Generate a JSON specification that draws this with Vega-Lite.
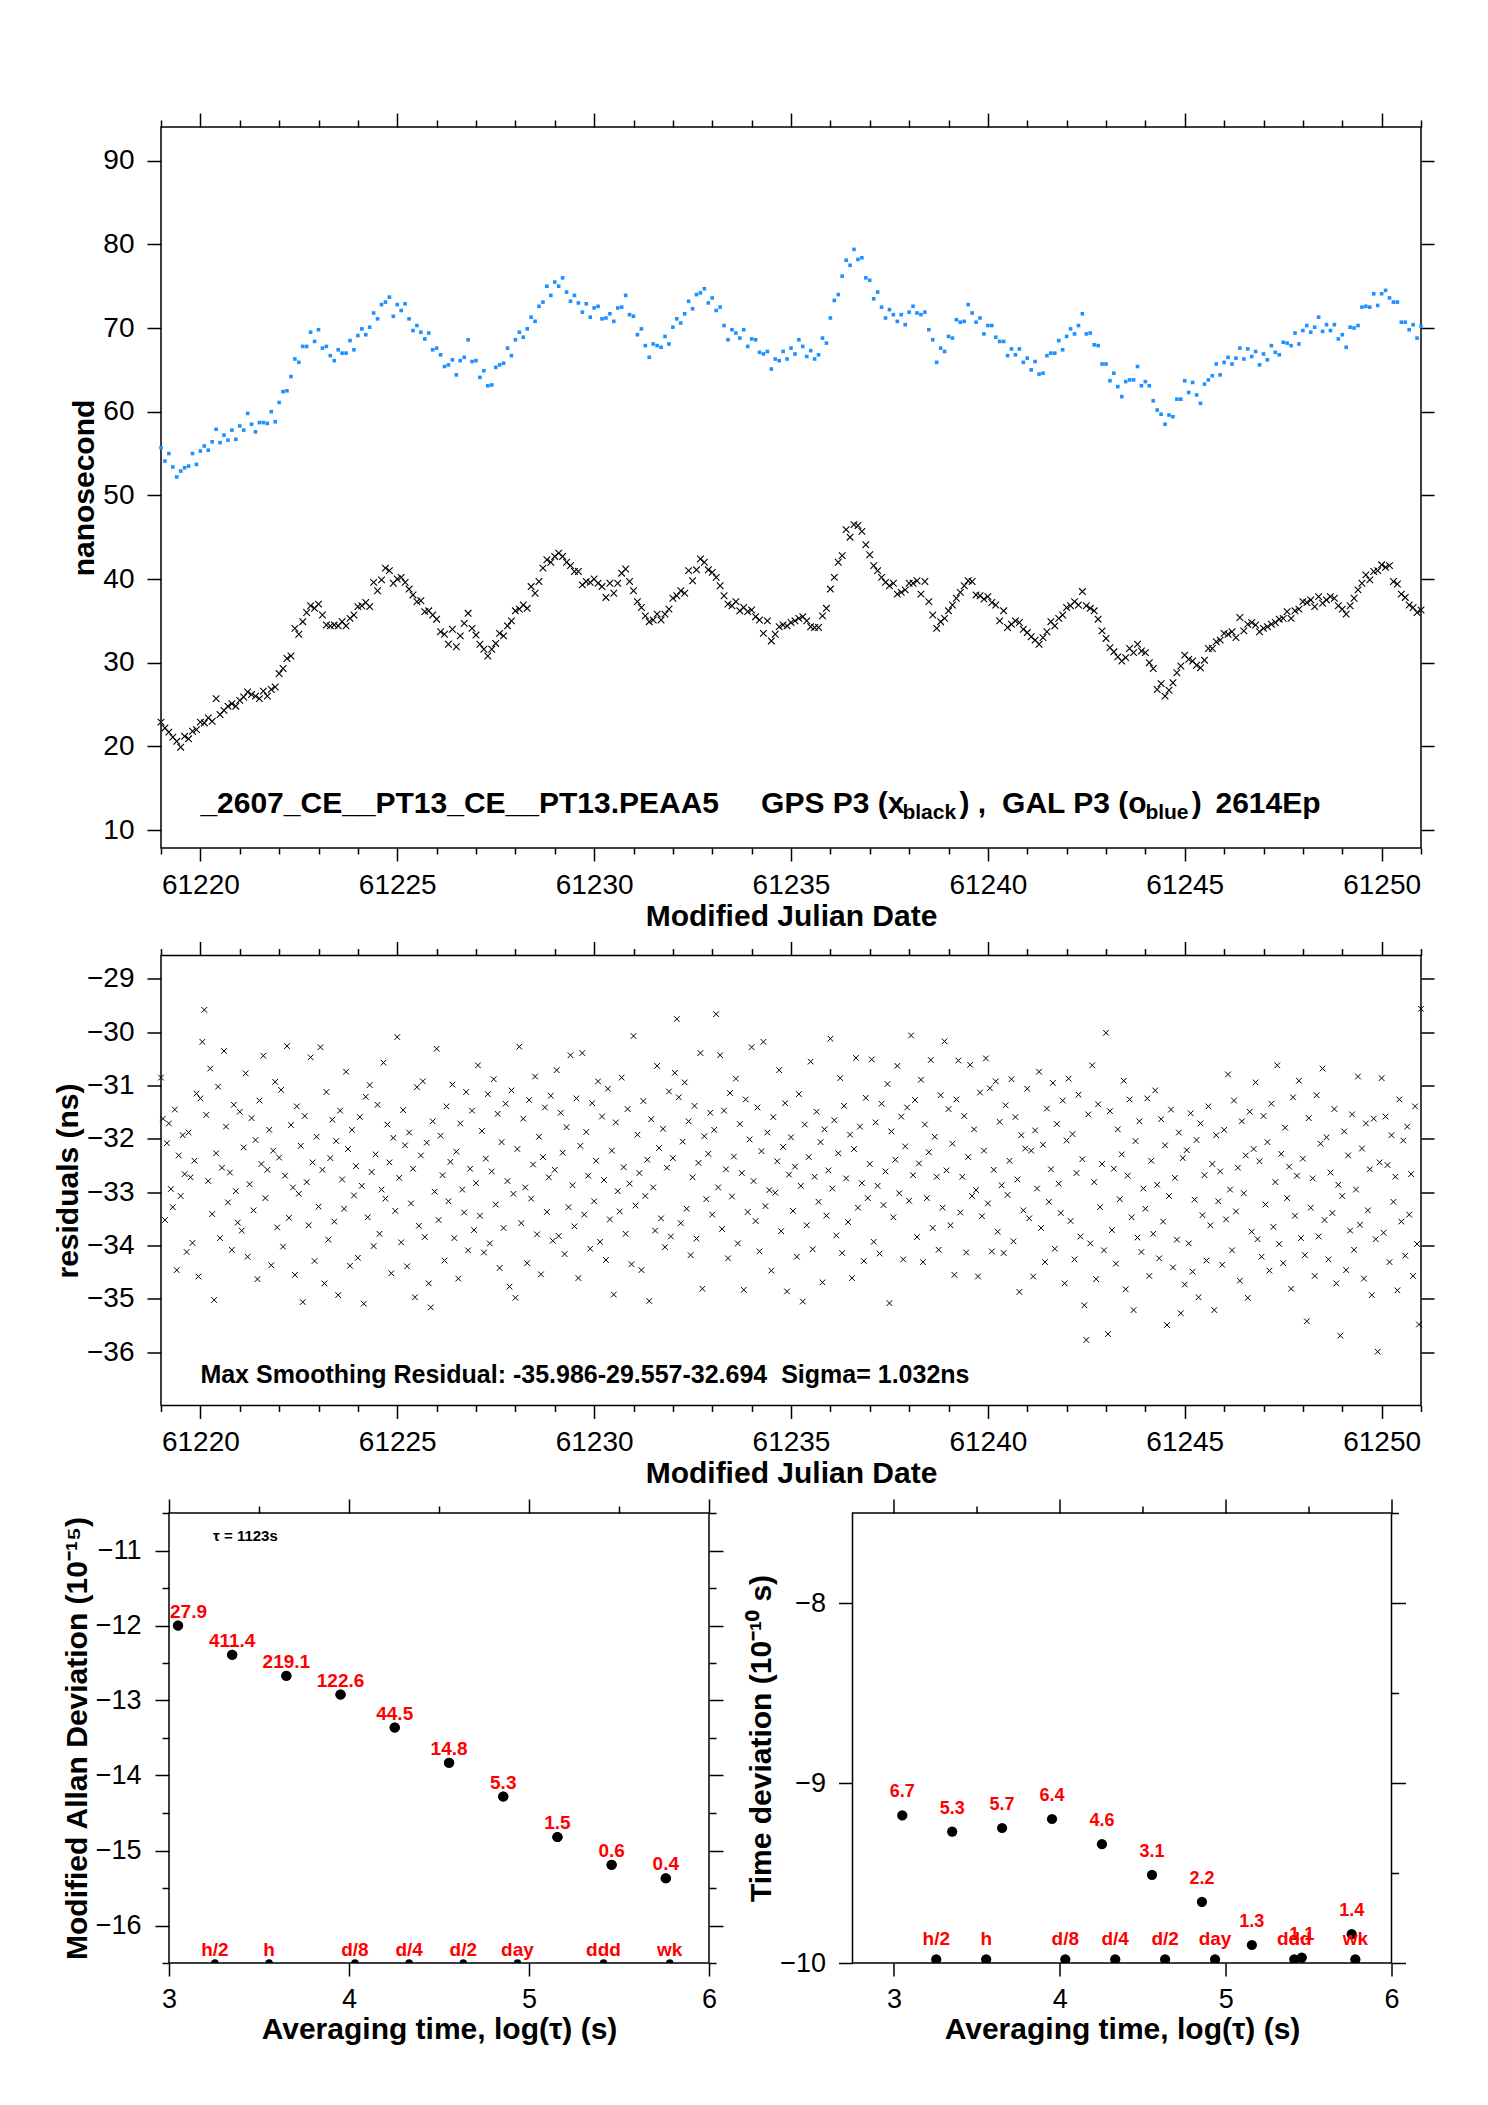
{
"$schema": "https://vega.github.io/schema/vega-lite/v6.json",
"background": "white",
"padding": {"left": 52, "top": 111, "right": 10, "bottom": 10},
"bounds": "flush",
"spacing": 107.5,
"config": {
"font": "Liberation Sans",
"view": {"stroke": "black", "strokeWidth": 1.5},
"axis": {"grid": false, "domain": false, "ticks": true, "tickColor": "black", "tickWidth": 1.5, "labelColor": "black", "labelFont": "Liberation Sans", "labelFontSize": 28, "labelPadding": 11, "labelFlush": false, "labelOverlap": false, "titleColor": "black", "titleFont": "Liberation Sans", "titleFontSize": 30, "titleFontWeight": "bold"},
"text": {"font": "Liberation Sans"}
},
"datasets": {
"ts": [
{"t":61219.0,"a":55.7,"b":22.9},{"t":61219.1,"a":54.1,"b":22.2},{"t":61219.2,"a":55.0,"b":21.7},{"t":61219.3,"a":53.4,"b":21.1},{"t":61219.4,"a":52.2,"b":20.6},{"t":61219.5,"a":52.9,"b":19.9},{"t":61219.6,"a":53.3,"b":21.2},{"t":61219.7,"a":53.5,"b":20.9},{"t":61219.8,"a":55.0,"b":21.8},{"t":61219.9,"a":53.7,"b":22.0},
{"t":61220.0,"a":55.3,"b":22.9},{"t":61220.1,"a":55.9,"b":22.8},{"t":61220.2,"a":55.4,"b":23.4},{"t":61220.3,"a":56.4,"b":23.0},{"t":61220.4,"a":57.9,"b":25.7},{"t":61220.5,"a":56.3,"b":23.8},{"t":61220.6,"a":57.2,"b":24.3},{"t":61220.7,"a":56.6,"b":24.8},{"t":61220.8,"a":57.8,"b":25.1},{"t":61220.9,"a":56.7,"b":24.8},
{"t":61221.0,"a":58.3,"b":25.5},{"t":61221.1,"a":57.8,"b":25.9},{"t":61221.2,"a":59.8,"b":26.5},{"t":61221.3,"a":58.5,"b":26.2},{"t":61221.4,"a":57.6,"b":26.0},{"t":61221.5,"a":58.7,"b":25.7},{"t":61221.6,"a":58.7,"b":26.6},{"t":61221.7,"a":58.6,"b":26.0},{"t":61221.8,"a":60.0,"b":26.8},{"t":61221.9,"a":58.8,"b":27.1},
{"t":61222.0,"a":61.1,"b":28.7},{"t":61222.1,"a":62.4,"b":29.3},{"t":61222.2,"a":62.5,"b":30.5},{"t":61222.3,"a":64.2,"b":30.8},{"t":61222.4,"a":66.3,"b":34.1},{"t":61222.5,"a":65.9,"b":33.4},{"t":61222.6,"a":67.8,"b":34.9},{"t":61222.7,"a":67.8,"b":36.0},{"t":61222.8,"a":69.5,"b":36.8},{"t":61222.9,"a":68.4,"b":36.5},
{"t":61223.0,"a":69.8,"b":37.0},{"t":61223.1,"a":67.6,"b":35.7},{"t":61223.2,"a":67.8,"b":34.5},{"t":61223.3,"a":66.7,"b":34.4},{"t":61223.4,"a":66.1,"b":34.5},{"t":61223.5,"a":67.4,"b":34.4},{"t":61223.6,"a":67.0,"b":34.9},{"t":61223.7,"a":67.0,"b":34.4},{"t":61223.8,"a":68.5,"b":35.3},{"t":61223.9,"a":67.4,"b":35.7},
{"t":61224.0,"a":69.1,"b":36.7},{"t":61224.1,"a":69.9,"b":36.8},{"t":61224.2,"a":69.2,"b":37.2},{"t":61224.3,"a":70.1,"b":36.7},{"t":61224.4,"a":71.8,"b":39.6},{"t":61224.5,"a":71.1,"b":38.6},{"t":61224.6,"a":72.8,"b":39.9},{"t":61224.7,"a":73.1,"b":41.3},{"t":61224.8,"a":73.7,"b":41.0},{"t":61224.9,"a":71.4,"b":39.5},
{"t":61225.0,"a":72.8,"b":40.0},{"t":61225.1,"a":72.1,"b":40.2},{"t":61225.2,"a":72.9,"b":39.6},{"t":61225.3,"a":71.1,"b":38.8},{"t":61225.4,"a":69.7,"b":38.1},{"t":61225.5,"a":70.3,"b":37.3},{"t":61225.6,"a":69.5,"b":37.4},{"t":61225.7,"a":68.7,"b":36.1},{"t":61225.8,"a":69.4,"b":36.2},{"t":61225.9,"a":67.4,"b":35.7},
{"t":61226.0,"a":67.6,"b":35.2},{"t":61226.1,"a":66.8,"b":33.7},{"t":61226.2,"a":65.4,"b":33.4},{"t":61226.3,"a":65.6,"b":32.2},{"t":61226.4,"a":66.2,"b":34.0},{"t":61226.5,"a":64.4,"b":31.9},{"t":61226.6,"a":66.1,"b":33.2},{"t":61226.7,"a":66.5,"b":34.7},{"t":61226.8,"a":68.6,"b":35.9},{"t":61226.9,"a":66.0,"b":34.1},
{"t":61227.0,"a":66.1,"b":33.3},{"t":61227.1,"a":64.1,"b":32.2},{"t":61227.2,"a":64.9,"b":31.6},{"t":61227.3,"a":63.1,"b":30.8},{"t":61227.4,"a":63.2,"b":31.6},{"t":61227.5,"a":65.3,"b":32.3},{"t":61227.6,"a":65.6,"b":33.5},{"t":61227.7,"a":65.8,"b":33.2},{"t":61227.8,"a":67.6,"b":34.4},{"t":61227.9,"a":66.7,"b":35.0},
{"t":61228.0,"a":68.6,"b":36.2},{"t":61228.1,"a":69.5,"b":36.4},{"t":61228.2,"a":68.9,"b":36.9},{"t":61228.3,"a":69.9,"b":36.5},{"t":61228.4,"a":71.3,"b":39.1},{"t":61228.5,"a":70.8,"b":38.3},{"t":61228.6,"a":72.6,"b":39.7},{"t":61228.7,"a":73.1,"b":41.3},{"t":61228.8,"a":75.0,"b":42.3},{"t":61228.9,"a":73.9,"b":42.0},
{"t":61229.0,"a":75.5,"b":42.7},{"t":61229.1,"a":75.0,"b":43.1},{"t":61229.2,"a":76.0,"b":42.7},{"t":61229.3,"a":74.3,"b":42.0},{"t":61229.4,"a":73.2,"b":41.6},{"t":61229.5,"a":73.9,"b":40.9},{"t":61229.6,"a":73.0,"b":40.9},{"t":61229.7,"a":71.9,"b":39.3},{"t":61229.8,"a":72.9,"b":39.7},{"t":61229.9,"a":71.3,"b":39.6},
{"t":61230.0,"a":72.4,"b":40.0},{"t":61230.1,"a":72.6,"b":39.5},{"t":61230.2,"a":71.1,"b":39.1},{"t":61230.3,"a":71.2,"b":37.8},{"t":61230.4,"a":71.7,"b":39.5},{"t":61230.5,"a":70.8,"b":38.3},{"t":61230.6,"a":72.4,"b":39.5},{"t":61230.7,"a":72.5,"b":40.7},{"t":61230.8,"a":73.9,"b":41.2},{"t":61230.9,"a":71.6,"b":39.7},
{"t":61231.0,"a":71.4,"b":38.6},{"t":61231.1,"a":69.2,"b":37.3},{"t":61231.2,"a":69.9,"b":36.6},{"t":61231.3,"a":67.9,"b":35.6},{"t":61231.4,"a":66.5,"b":34.9},{"t":61231.5,"a":68.1,"b":35.1},{"t":61231.6,"a":67.9,"b":35.8},{"t":61231.7,"a":67.7,"b":35.1},{"t":61231.8,"a":69.0,"b":35.8},{"t":61231.9,"a":68.1,"b":36.4},
{"t":61232.0,"a":70.1,"b":37.7},{"t":61232.1,"a":71.1,"b":38.0},{"t":61232.2,"a":70.6,"b":38.6},{"t":61232.3,"a":71.7,"b":38.3},{"t":61232.4,"a":73.2,"b":41.0},{"t":61232.5,"a":72.3,"b":39.8},{"t":61232.6,"a":74.0,"b":41.1},{"t":61232.7,"a":74.2,"b":42.4},{"t":61232.8,"a":74.7,"b":42.0},{"t":61232.9,"a":73.0,"b":41.1},
{"t":61233.0,"a":73.6,"b":40.8},{"t":61233.1,"a":72.1,"b":40.2},{"t":61233.2,"a":72.5,"b":39.2},{"t":61233.3,"a":70.3,"b":38.0},{"t":61233.4,"a":68.6,"b":37.0},{"t":61233.5,"a":69.8,"b":36.8},{"t":61233.6,"a":69.4,"b":37.3},{"t":61233.7,"a":68.8,"b":36.2},{"t":61233.8,"a":69.8,"b":36.6},{"t":61233.9,"a":67.8,"b":36.1},
{"t":61234.0,"a":68.7,"b":36.3},{"t":61234.1,"a":68.6,"b":35.5},{"t":61234.2,"a":67.1,"b":35.1},{"t":61234.3,"a":66.9,"b":33.5},{"t":61234.4,"a":67.2,"b":35.0},{"t":61234.5,"a":65.1,"b":32.6},{"t":61234.6,"a":66.3,"b":33.4},{"t":61234.7,"a":66.1,"b":34.3},{"t":61234.8,"a":67.2,"b":34.5},{"t":61234.9,"a":66.3,"b":34.4},
{"t":61235.0,"a":67.6,"b":34.8},{"t":61235.1,"a":66.9,"b":35.0},{"t":61235.2,"a":68.6,"b":35.3},{"t":61235.3,"a":67.8,"b":35.5},{"t":61235.4,"a":66.6,"b":35.0},{"t":61235.5,"a":67.3,"b":34.3},{"t":61235.6,"a":66.3,"b":34.2},{"t":61235.7,"a":66.8,"b":34.2},{"t":61235.8,"a":68.8,"b":35.6},{"t":61235.9,"a":68.2,"b":36.5},
{"t":61236.0,"a":71.2,"b":38.8},{"t":61236.1,"a":73.3,"b":40.2},{"t":61236.2,"a":74.0,"b":42.0},{"t":61236.3,"a":76.2,"b":42.8},{"t":61236.4,"a":78.1,"b":45.9},{"t":61236.5,"a":77.5,"b":45.0},{"t":61236.6,"a":79.4,"b":46.5},{"t":61236.7,"a":78.2,"b":46.4},{"t":61236.8,"a":78.4,"b":45.7},{"t":61236.9,"a":76.0,"b":44.1},
{"t":61237.0,"a":75.7,"b":42.9},{"t":61237.1,"a":73.5,"b":41.6},{"t":61237.2,"a":74.3,"b":41.0},{"t":61237.3,"a":72.5,"b":40.2},{"t":61237.4,"a":71.2,"b":39.6},{"t":61237.5,"a":72.2,"b":39.2},{"t":61237.6,"a":71.6,"b":39.5},{"t":61237.7,"a":70.8,"b":38.2},{"t":61237.8,"a":71.6,"b":38.4},{"t":61237.9,"a":70.4,"b":38.7},
{"t":61238.0,"a":71.9,"b":39.5},{"t":61238.1,"a":72.6,"b":39.5},{"t":61238.2,"a":71.8,"b":39.8},{"t":61238.3,"a":71.6,"b":38.2},{"t":61238.4,"a":71.9,"b":39.7},{"t":61238.5,"a":69.8,"b":37.3},{"t":61238.6,"a":68.6,"b":35.7},{"t":61238.7,"a":65.9,"b":34.1},{"t":61238.8,"a":67.6,"b":34.9},{"t":61238.9,"a":67.2,"b":35.3},
{"t":61239.0,"a":69.0,"b":36.2},{"t":61239.1,"a":68.8,"b":36.9},{"t":61239.2,"a":71.0,"b":37.7},{"t":61239.3,"a":70.7,"b":38.4},{"t":61239.4,"a":70.8,"b":39.2},{"t":61239.5,"a":72.8,"b":39.8},{"t":61239.6,"a":71.8,"b":39.7},{"t":61239.7,"a":70.7,"b":38.1},{"t":61239.8,"a":71.2,"b":38.0},{"t":61239.9,"a":69.3,"b":37.6},
{"t":61240.0,"a":70.3,"b":37.9},{"t":61240.1,"a":70.3,"b":37.2},{"t":61240.2,"a":68.9,"b":36.9},{"t":61240.3,"a":68.4,"b":35.0},{"t":61240.4,"a":68.4,"b":36.2},{"t":61240.5,"a":66.7,"b":34.2},{"t":61240.6,"a":67.5,"b":34.6},{"t":61240.7,"a":66.8,"b":35.0},{"t":61240.8,"a":67.5,"b":34.8},{"t":61240.9,"a":65.9,"b":34.0},
{"t":61241.0,"a":66.4,"b":33.6},{"t":61241.1,"a":65.0,"b":33.1},{"t":61241.2,"a":66.0,"b":32.7},{"t":61241.3,"a":64.5,"b":32.2},{"t":61241.4,"a":64.6,"b":33.0},{"t":61241.5,"a":66.7,"b":33.7},{"t":61241.6,"a":67.0,"b":34.9},{"t":61241.7,"a":67.0,"b":34.4},{"t":61241.8,"a":68.5,"b":35.3},{"t":61241.9,"a":67.4,"b":35.7},
{"t":61242.0,"a":69.0,"b":36.6},{"t":61242.1,"a":69.9,"b":36.8},{"t":61242.2,"a":69.3,"b":37.3},{"t":61242.3,"a":70.3,"b":36.9},{"t":61242.4,"a":71.7,"b":38.5},{"t":61242.5,"a":69.3,"b":36.8},{"t":61242.6,"a":69.4,"b":36.5},{"t":61242.7,"a":68.0,"b":36.2},{"t":61242.8,"a":67.9,"b":35.2},{"t":61242.9,"a":65.7,"b":33.8},
{"t":61243.0,"a":65.7,"b":32.9},{"t":61243.1,"a":63.7,"b":31.8},{"t":61243.2,"a":64.6,"b":31.3},{"t":61243.3,"a":63.0,"b":30.7},{"t":61243.4,"a":61.8,"b":30.2},{"t":61243.5,"a":63.6,"b":30.6},{"t":61243.6,"a":63.8,"b":31.7},{"t":61243.7,"a":63.8,"b":31.2},{"t":61243.8,"a":65.4,"b":32.2},{"t":61243.9,"a":63.1,"b":31.4},
{"t":61244.0,"a":63.6,"b":31.2},{"t":61244.1,"a":63.1,"b":30.0},{"t":61244.2,"a":61.3,"b":29.3},{"t":61244.3,"a":60.2,"b":26.8},{"t":61244.4,"a":59.7,"b":27.5},{"t":61244.5,"a":58.5,"b":26.0},{"t":61244.6,"a":59.6,"b":26.7},{"t":61244.7,"a":59.4,"b":27.6},{"t":61244.8,"a":61.5,"b":28.8},{"t":61244.9,"a":61.5,"b":29.6},
{"t":61245.0,"a":63.7,"b":30.9},{"t":61245.1,"a":62.3,"b":30.4},{"t":61245.2,"a":63.5,"b":30.2},{"t":61245.3,"a":62.0,"b":29.7},{"t":61245.4,"a":61.0,"b":29.4},{"t":61245.5,"a":63.3,"b":30.3},{"t":61245.6,"a":63.8,"b":31.7},{"t":61245.7,"a":64.3,"b":31.7},{"t":61245.8,"a":65.7,"b":32.5},{"t":61245.9,"a":64.4,"b":32.7},
{"t":61246.0,"a":65.9,"b":33.5},{"t":61246.1,"a":66.5,"b":33.4},{"t":61246.2,"a":65.7,"b":33.7},{"t":61246.3,"a":66.4,"b":33.0},{"t":61246.4,"a":67.6,"b":35.4},{"t":61246.5,"a":66.3,"b":33.8},{"t":61246.6,"a":67.5,"b":34.6},{"t":61246.7,"a":66.6,"b":34.8},{"t":61246.8,"a":67.2,"b":34.5},{"t":61246.9,"a":65.6,"b":33.7},
{"t":61247.0,"a":66.9,"b":34.1},{"t":61247.1,"a":66.2,"b":34.3},{"t":61247.2,"a":67.9,"b":34.6},{"t":61247.3,"a":67.1,"b":34.8},{"t":61247.4,"a":66.8,"b":35.2},{"t":61247.5,"a":68.3,"b":35.3},{"t":61247.6,"a":68.2,"b":36.1},{"t":61247.7,"a":67.9,"b":35.3},{"t":61247.8,"a":69.4,"b":36.2},{"t":61247.9,"a":68.1,"b":36.4},
{"t":61248.0,"a":69.7,"b":37.3},{"t":61248.1,"a":70.3,"b":37.2},{"t":61248.2,"a":69.5,"b":37.5},{"t":61248.3,"a":70.1,"b":36.7},{"t":61248.4,"a":71.3,"b":37.9},{"t":61248.5,"a":69.6,"b":37.1},{"t":61248.6,"a":70.4,"b":37.5},{"t":61248.7,"a":69.7,"b":37.9},{"t":61248.8,"a":70.4,"b":37.7},{"t":61248.9,"a":68.7,"b":36.8},
{"t":61249.0,"a":69.2,"b":36.4},{"t":61249.1,"a":67.7,"b":35.8},{"t":61249.2,"a":70.1,"b":36.8},{"t":61249.3,"a":70.0,"b":37.7},{"t":61249.4,"a":70.3,"b":38.7},{"t":61249.5,"a":72.5,"b":39.5},{"t":61249.6,"a":72.6,"b":40.5},{"t":61249.7,"a":72.5,"b":39.9},{"t":61249.8,"a":74.1,"b":40.9},{"t":61249.9,"a":72.7,"b":41.0},
{"t":61250.0,"a":74.1,"b":41.7},{"t":61250.1,"a":74.5,"b":41.4},{"t":61250.2,"a":73.6,"b":41.6},{"t":61250.3,"a":73.1,"b":39.7},{"t":61250.4,"a":73.1,"b":39.4},{"t":61250.5,"a":70.7,"b":38.2},{"t":61250.6,"a":70.7,"b":37.8},{"t":61250.7,"a":69.8,"b":36.9},{"t":61250.8,"a":70.4,"b":36.6},{"t":61250.9,"a":68.8,"b":36.0},
{"t":61251.0,"a":70.2,"b":36.3}
],
"res": [
{"t":61219.00,"r":-30.85},{"t":61219.05,"r":-31.62},{"t":61219.10,"r":-33.52},{"t":61219.15,"r":-32.08},{"t":61219.20,"r":-31.71},{"t":61219.25,"r":-32.94},{"t":61219.30,"r":-33.28},{"t":61219.35,"r":-31.45},{"t":61219.40,"r":-34.46},{"t":61219.45,"r":-32.31},{"t":61219.50,"r":-33.07},{"t":61219.55,"r":-31.93},{"t":61219.60,"r":-32.66},{"t":61219.65,"r":-34.12},{"t":61219.70,"r":-31.88},{"t":61219.75,"r":-32.72},{"t":61219.80,"r":-33.95},{"t":61219.85,"r":-32.41},{"t":61219.90,"r":-31.15},{"t":61219.95,"r":-34.58},
{"t":61220.00,"r":-31.24},{"t":61220.05,"r":-30.18},{"t":61220.10,"r":-29.58},{"t":61220.15,"r":-31.55},{"t":61220.20,"r":-32.79},{"t":61220.25,"r":-30.68},{"t":61220.30,"r":-33.41},{"t":61220.35,"r":-35.02},{"t":61220.40,"r":-32.27},{"t":61220.45,"r":-31.02},{"t":61220.50,"r":-33.86},{"t":61220.55,"r":-32.54},{"t":61220.60,"r":-30.35},{"t":61220.65,"r":-31.77},{"t":61220.70,"r":-33.19},{"t":61220.75,"r":-32.63},{"t":61220.80,"r":-34.08},{"t":61220.85,"r":-31.36},{"t":61220.90,"r":-32.98},{"t":61220.95,"r":-33.57},
{"t":61221.00,"r":-31.49},{"t":61221.05,"r":-33.72},{"t":61221.10,"r":-32.16},{"t":61221.15,"r":-30.77},{"t":61221.20,"r":-34.21},{"t":61221.25,"r":-32.85},{"t":61221.30,"r":-31.61},{"t":61221.35,"r":-33.34},{"t":61221.40,"r":-32.02},{"t":61221.45,"r":-34.63},{"t":61221.50,"r":-31.28},{"t":61221.55,"r":-32.47},{"t":61221.60,"r":-30.44},{"t":61221.65,"r":-33.11},{"t":61221.70,"r":-32.58},{"t":61221.75,"r":-31.83},{"t":61221.80,"r":-34.37},{"t":61221.85,"r":-32.22},{"t":61221.90,"r":-30.93},{"t":61221.95,"r":-33.66},
{"t":61222.00,"r":-32.35},{"t":61222.05,"r":-31.08},{"t":61222.10,"r":-34.02},{"t":61222.15,"r":-32.69},{"t":61222.20,"r":-30.26},{"t":61222.25,"r":-33.48},{"t":61222.30,"r":-31.74},{"t":61222.35,"r":-32.91},{"t":61222.40,"r":-34.55},{"t":61222.45,"r":-31.39},{"t":61222.50,"r":-33.03},{"t":61222.55,"r":-32.13},{"t":61222.60,"r":-35.06},{"t":61222.65,"r":-31.57},{"t":61222.70,"r":-32.81},{"t":61222.75,"r":-33.62},{"t":61222.80,"r":-30.47},{"t":61222.85,"r":-32.44},{"t":61222.90,"r":-34.29},{"t":61222.95,"r":-31.96},
{"t":61223.00,"r":-33.27},{"t":61223.05,"r":-30.28},{"t":61223.10,"r":-32.58},{"t":61223.15,"r":-34.71},{"t":61223.20,"r":-31.12},{"t":61223.25,"r":-33.89},{"t":61223.30,"r":-32.36},{"t":61223.35,"r":-31.64},{"t":61223.40,"r":-33.55},{"t":61223.45,"r":-32.04},{"t":61223.50,"r":-34.93},{"t":61223.55,"r":-31.47},{"t":61223.60,"r":-32.76},{"t":61223.65,"r":-33.31},{"t":61223.70,"r":-30.74},{"t":61223.75,"r":-32.19},{"t":61223.80,"r":-34.38},{"t":61223.85,"r":-31.83},{"t":61223.90,"r":-33.06},{"t":61223.95,"r":-32.51},
{"t":61224.00,"r":-34.23},{"t":61224.05,"r":-31.59},{"t":61224.10,"r":-32.88},{"t":61224.15,"r":-35.09},{"t":61224.20,"r":-31.21},{"t":61224.25,"r":-33.47},{"t":61224.30,"r":-30.99},{"t":61224.35,"r":-32.62},{"t":61224.40,"r":-34.01},{"t":61224.45,"r":-32.29},{"t":61224.50,"r":-31.36},{"t":61224.55,"r":-33.78},{"t":61224.60,"r":-32.95},{"t":61224.65,"r":-30.57},{"t":61224.70,"r":-33.12},{"t":61224.75,"r":-31.73},{"t":61224.80,"r":-32.44},{"t":61224.85,"r":-34.52},{"t":61224.90,"r":-31.98},{"t":61224.95,"r":-33.35},
{"t":61225.00,"r":-30.09},{"t":61225.05,"r":-32.73},{"t":61225.10,"r":-33.94},{"t":61225.15,"r":-31.46},{"t":61225.20,"r":-32.12},{"t":61225.25,"r":-34.39},{"t":61225.30,"r":-31.88},{"t":61225.35,"r":-33.21},{"t":61225.40,"r":-32.56},{"t":61225.45,"r":-34.97},{"t":61225.50,"r":-31.03},{"t":61225.55,"r":-33.63},{"t":61225.60,"r":-32.31},{"t":61225.65,"r":-30.92},{"t":61225.70,"r":-33.84},{"t":61225.75,"r":-32.07},{"t":61225.80,"r":-34.71},{"t":61225.85,"r":-35.16},{"t":61225.90,"r":-31.67},{"t":61225.95,"r":-32.99},
{"t":61226.00,"r":-30.31},{"t":61226.05,"r":-33.52},{"t":61226.10,"r":-31.94},{"t":61226.15,"r":-32.68},{"t":61226.20,"r":-34.28},{"t":61226.25,"r":-31.39},{"t":61226.30,"r":-33.17},{"t":61226.35,"r":-32.43},{"t":61226.40,"r":-30.98},{"t":61226.45,"r":-33.86},{"t":61226.50,"r":-32.24},{"t":61226.55,"r":-34.62},{"t":61226.60,"r":-31.71},{"t":61226.65,"r":-32.95},{"t":61226.70,"r":-33.38},{"t":61226.75,"r":-31.12},{"t":61226.80,"r":-34.09},{"t":61226.85,"r":-32.56},{"t":61226.90,"r":-31.47},{"t":61226.95,"r":-33.71},
{"t":61227.00,"r":-32.83},{"t":61227.05,"r":-30.62},{"t":61227.10,"r":-33.44},{"t":61227.15,"r":-31.85},{"t":61227.20,"r":-34.13},{"t":61227.25,"r":-32.37},{"t":61227.30,"r":-31.16},{"t":61227.35,"r":-33.96},{"t":61227.40,"r":-32.61},{"t":61227.45,"r":-30.88},{"t":61227.50,"r":-33.23},{"t":61227.55,"r":-31.53},{"t":61227.60,"r":-34.42},{"t":61227.65,"r":-32.06},{"t":61227.70,"r":-33.67},{"t":61227.75,"r":-31.34},{"t":61227.80,"r":-32.79},{"t":61227.85,"r":-34.77},{"t":61227.90,"r":-31.09},{"t":61227.95,"r":-33.03},
{"t":61228.00,"r":-34.98},{"t":61228.05,"r":-32.19},{"t":61228.10,"r":-30.27},{"t":61228.15,"r":-33.58},{"t":61228.20,"r":-31.62},{"t":61228.25,"r":-32.91},{"t":61228.30,"r":-34.33},{"t":61228.35,"r":-31.27},{"t":61228.40,"r":-33.12},{"t":61228.45,"r":-32.48},{"t":61228.50,"r":-30.83},{"t":61228.55,"r":-33.79},{"t":61228.60,"r":-31.96},{"t":61228.65,"r":-34.54},{"t":61228.70,"r":-32.34},{"t":61228.75,"r":-31.41},{"t":61228.80,"r":-33.37},{"t":61228.85,"r":-32.72},{"t":61228.90,"r":-31.19},{"t":61228.95,"r":-33.91},
{"t":61229.00,"r":-32.58},{"t":61229.05,"r":-30.71},{"t":61229.10,"r":-33.82},{"t":61229.15,"r":-31.51},{"t":61229.20,"r":-32.26},{"t":61229.25,"r":-34.16},{"t":61229.30,"r":-31.78},{"t":61229.35,"r":-33.28},{"t":61229.40,"r":-30.43},{"t":61229.45,"r":-32.87},{"t":61229.50,"r":-33.64},{"t":61229.55,"r":-31.24},{"t":61229.60,"r":-34.61},{"t":61229.65,"r":-32.13},{"t":61229.70,"r":-30.39},{"t":61229.75,"r":-33.42},{"t":61229.80,"r":-31.87},{"t":61229.85,"r":-32.69},{"t":61229.90,"r":-34.06},{"t":61229.95,"r":-31.33},
{"t":61230.00,"r":-33.17},{"t":61230.05,"r":-32.41},{"t":61230.10,"r":-30.92},{"t":61230.15,"r":-33.93},{"t":61230.20,"r":-31.58},{"t":61230.25,"r":-32.77},{"t":61230.30,"r":-34.27},{"t":61230.35,"r":-31.06},{"t":61230.40,"r":-33.51},{"t":61230.45,"r":-32.22},{"t":61230.50,"r":-34.92},{"t":61230.55,"r":-31.69},{"t":61230.60,"r":-32.98},{"t":61230.65,"r":-33.36},{"t":61230.70,"r":-30.85},{"t":61230.75,"r":-32.53},{"t":61230.80,"r":-33.78},{"t":61230.85,"r":-31.44},{"t":61230.90,"r":-32.84},{"t":61230.95,"r":-34.35},
{"t":61231.00,"r":-30.07},{"t":61231.05,"r":-33.25},{"t":61231.10,"r":-31.92},{"t":61231.15,"r":-32.64},{"t":61231.20,"r":-34.46},{"t":61231.25,"r":-31.29},{"t":61231.30,"r":-33.07},{"t":61231.35,"r":-32.39},{"t":61231.40,"r":-35.04},{"t":61231.45,"r":-31.63},{"t":61231.50,"r":-32.91},{"t":61231.55,"r":-33.72},{"t":61231.60,"r":-30.63},{"t":61231.65,"r":-32.17},{"t":61231.70,"r":-33.49},{"t":61231.75,"r":-31.81},{"t":61231.80,"r":-34.03},{"t":61231.85,"r":-32.54},{"t":61231.90,"r":-31.11},{"t":61231.95,"r":-33.83},
{"t":61232.00,"r":-32.36},{"t":61232.05,"r":-30.76},{"t":61232.10,"r":-29.75},{"t":61232.15,"r":-31.22},{"t":61232.20,"r":-33.58},{"t":61232.25,"r":-32.05},{"t":61232.30,"r":-30.94},{"t":61232.35,"r":-33.31},{"t":61232.40,"r":-31.67},{"t":61232.45,"r":-34.18},{"t":61232.50,"r":-32.72},{"t":61232.55,"r":-31.38},{"t":61232.60,"r":-33.87},{"t":61232.65,"r":-32.45},{"t":61232.70,"r":-30.39},{"t":61232.75,"r":-34.81},{"t":61232.80,"r":-31.95},{"t":61232.85,"r":-33.13},{"t":61232.90,"r":-32.28},{"t":61232.95,"r":-31.51},
{"t":61233.00,"r":-33.42},{"t":61233.05,"r":-31.83},{"t":61233.10,"r":-29.66},{"t":61233.15,"r":-32.91},{"t":61233.20,"r":-30.43},{"t":61233.25,"r":-33.69},{"t":61233.30,"r":-31.47},{"t":61233.35,"r":-32.57},{"t":61233.40,"r":-34.24},{"t":61233.45,"r":-31.14},{"t":61233.50,"r":-33.08},{"t":61233.55,"r":-32.33},{"t":61233.60,"r":-30.87},{"t":61233.65,"r":-33.96},{"t":61233.70,"r":-31.72},{"t":61233.75,"r":-32.64},{"t":61233.80,"r":-34.83},{"t":61233.85,"r":-31.26},{"t":61233.90,"r":-33.37},{"t":61233.95,"r":-32.01},
{"t":61234.00,"r":-30.28},{"t":61234.05,"r":-32.79},{"t":61234.10,"r":-33.54},{"t":61234.15,"r":-31.41},{"t":61234.20,"r":-34.11},{"t":61234.25,"r":-32.23},{"t":61234.30,"r":-30.18},{"t":61234.35,"r":-33.26},{"t":61234.40,"r":-31.88},{"t":61234.45,"r":-32.96},{"t":61234.50,"r":-34.47},{"t":61234.55,"r":-31.59},{"t":61234.60,"r":-33.01},{"t":61234.65,"r":-32.42},{"t":61234.70,"r":-30.71},{"t":61234.75,"r":-33.73},{"t":61234.80,"r":-32.15},{"t":61234.85,"r":-31.33},{"t":61234.90,"r":-34.86},{"t":61234.95,"r":-32.67},
{"t":61235.00,"r":-31.97},{"t":61235.05,"r":-33.35},{"t":61235.10,"r":-32.52},{"t":61235.15,"r":-34.21},{"t":61235.20,"r":-31.16},{"t":61235.25,"r":-32.88},{"t":61235.30,"r":-35.05},{"t":61235.35,"r":-31.73},{"t":61235.40,"r":-33.62},{"t":61235.45,"r":-32.34},{"t":61235.50,"r":-30.55},{"t":61235.55,"r":-34.07},{"t":61235.60,"r":-32.71},{"t":61235.65,"r":-31.49},{"t":61235.70,"r":-33.18},{"t":61235.75,"r":-32.06},{"t":61235.80,"r":-34.69},{"t":61235.85,"r":-31.82},{"t":61235.90,"r":-33.44},{"t":61235.95,"r":-32.59},
{"t":61236.00,"r":-30.12},{"t":61236.05,"r":-32.93},{"t":61236.10,"r":-31.65},{"t":61236.15,"r":-33.81},{"t":61236.20,"r":-32.27},{"t":61236.25,"r":-30.86},{"t":61236.30,"r":-34.14},{"t":61236.35,"r":-31.38},{"t":61236.40,"r":-32.74},{"t":61236.45,"r":-33.56},{"t":61236.50,"r":-31.92},{"t":61236.55,"r":-34.61},{"t":61236.60,"r":-32.19},{"t":61236.65,"r":-30.48},{"t":61236.70,"r":-33.29},{"t":61236.75,"r":-31.77},{"t":61236.80,"r":-32.83},{"t":61236.85,"r":-34.29},{"t":61236.90,"r":-31.23},{"t":61236.95,"r":-33.11},
{"t":61237.00,"r":-32.47},{"t":61237.05,"r":-30.51},{"t":61237.10,"r":-33.93},{"t":61237.15,"r":-31.69},{"t":61237.20,"r":-32.88},{"t":61237.25,"r":-34.15},{"t":61237.30,"r":-31.34},{"t":61237.35,"r":-33.24},{"t":61237.40,"r":-32.61},{"t":61237.45,"r":-30.97},{"t":61237.50,"r":-35.08},{"t":61237.55,"r":-31.86},{"t":61237.60,"r":-33.47},{"t":61237.65,"r":-32.39},{"t":61237.70,"r":-30.63},{"t":61237.75,"r":-33.02},{"t":61237.80,"r":-31.58},{"t":61237.85,"r":-34.26},{"t":61237.90,"r":-32.14},{"t":61237.95,"r":-31.41},
{"t":61238.00,"r":-33.16},{"t":61238.05,"r":-30.06},{"t":61238.10,"r":-32.68},{"t":61238.15,"r":-31.27},{"t":61238.20,"r":-33.84},{"t":61238.25,"r":-32.46},{"t":61238.30,"r":-30.89},{"t":61238.35,"r":-34.31},{"t":61238.40,"r":-31.73},{"t":61238.45,"r":-33.11},{"t":61238.50,"r":-32.25},{"t":61238.55,"r":-30.52},{"t":61238.60,"r":-33.67},{"t":61238.65,"r":-31.96},{"t":61238.70,"r":-32.71},{"t":61238.75,"r":-34.08},{"t":61238.80,"r":-31.18},{"t":61238.85,"r":-33.29},{"t":61238.90,"r":-30.17},{"t":61238.95,"r":-32.59},
{"t":61239.00,"r":-31.44},{"t":61239.05,"r":-33.62},{"t":61239.10,"r":-32.09},{"t":61239.15,"r":-34.55},{"t":61239.20,"r":-31.26},{"t":61239.25,"r":-30.53},{"t":61239.30,"r":-33.38},{"t":61239.35,"r":-32.71},{"t":61239.40,"r":-31.57},{"t":61239.45,"r":-34.13},{"t":61239.50,"r":-32.34},{"t":61239.55,"r":-30.61},{"t":61239.60,"r":-33.07},{"t":61239.65,"r":-31.82},{"t":61239.70,"r":-32.96},{"t":61239.75,"r":-34.58},{"t":61239.80,"r":-31.13},{"t":61239.85,"r":-33.45},{"t":61239.90,"r":-32.22},{"t":61239.95,"r":-30.49},
{"t":61240.00,"r":-33.21},{"t":61240.05,"r":-31.05},{"t":61240.10,"r":-34.11},{"t":61240.15,"r":-32.58},{"t":61240.20,"r":-30.92},{"t":61240.25,"r":-33.74},{"t":61240.30,"r":-31.68},{"t":61240.35,"r":-32.87},{"t":61240.40,"r":-34.14},{"t":61240.45,"r":-31.37},{"t":61240.50,"r":-33.05},{"t":61240.55,"r":-32.41},{"t":61240.60,"r":-30.88},{"t":61240.65,"r":-33.92},{"t":61240.70,"r":-31.59},{"t":61240.75,"r":-32.76},{"t":61240.80,"r":-34.87},{"t":61240.85,"r":-31.93},{"t":61240.90,"r":-33.34},{"t":61240.95,"r":-32.18},
{"t":61241.00,"r":-31.06},{"t":61241.05,"r":-33.49},{"t":61241.10,"r":-32.22},{"t":61241.15,"r":-34.58},{"t":61241.20,"r":-31.84},{"t":61241.25,"r":-32.93},{"t":61241.30,"r":-30.74},{"t":61241.35,"r":-33.67},{"t":61241.40,"r":-32.11},{"t":61241.45,"r":-34.31},{"t":61241.50,"r":-31.43},{"t":61241.55,"r":-33.18},{"t":61241.60,"r":-32.57},{"t":61241.65,"r":-30.95},{"t":61241.70,"r":-34.06},{"t":61241.75,"r":-31.72},{"t":61241.80,"r":-32.84},{"t":61241.85,"r":-33.39},{"t":61241.90,"r":-31.28},{"t":61241.95,"r":-34.71},
{"t":61242.00,"r":-32.03},{"t":61242.05,"r":-30.87},{"t":61242.10,"r":-33.54},{"t":61242.15,"r":-31.91},{"t":61242.20,"r":-34.26},{"t":61242.25,"r":-32.64},{"t":61242.30,"r":-31.17},{"t":61242.35,"r":-33.83},{"t":61242.40,"r":-32.38},{"t":61242.45,"r":-35.12},{"t":61242.50,"r":-35.77},{"t":61242.55,"r":-31.54},{"t":61242.60,"r":-33.96},{"t":61242.65,"r":-30.62},{"t":61242.70,"r":-32.81},{"t":61242.75,"r":-34.63},{"t":61242.80,"r":-31.35},{"t":61242.85,"r":-33.28},{"t":61242.90,"r":-32.47},{"t":61242.95,"r":-34.09},
{"t":61243.00,"r":-30.01},{"t":61243.05,"r":-35.66},{"t":61243.10,"r":-31.48},{"t":61243.15,"r":-33.71},{"t":61243.20,"r":-32.56},{"t":61243.25,"r":-34.34},{"t":61243.30,"r":-31.82},{"t":61243.35,"r":-33.13},{"t":61243.40,"r":-32.29},{"t":61243.45,"r":-30.91},{"t":61243.50,"r":-34.82},{"t":61243.55,"r":-32.69},{"t":61243.60,"r":-31.26},{"t":61243.65,"r":-33.47},{"t":61243.70,"r":-35.21},{"t":61243.75,"r":-32.04},{"t":61243.80,"r":-33.85},{"t":61243.85,"r":-31.67},{"t":61243.90,"r":-34.12},{"t":61243.95,"r":-32.93},
{"t":61244.00,"r":-33.31},{"t":61244.05,"r":-31.24},{"t":61244.10,"r":-34.57},{"t":61244.15,"r":-32.41},{"t":61244.20,"r":-33.78},{"t":61244.25,"r":-31.09},{"t":61244.30,"r":-32.86},{"t":61244.35,"r":-34.24},{"t":61244.40,"r":-31.63},{"t":61244.45,"r":-33.55},{"t":61244.50,"r":-32.12},{"t":61244.55,"r":-35.49},{"t":61244.60,"r":-33.07},{"t":61244.65,"r":-31.45},{"t":61244.70,"r":-34.41},{"t":61244.75,"r":-32.73},{"t":61244.80,"r":-33.89},{"t":61244.85,"r":-31.88},{"t":61244.90,"r":-35.27},{"t":61244.95,"r":-32.36},
{"t":61245.00,"r":-34.73},{"t":61245.05,"r":-32.21},{"t":61245.10,"r":-33.96},{"t":61245.15,"r":-31.52},{"t":61245.20,"r":-34.49},{"t":61245.25,"r":-33.14},{"t":61245.30,"r":-32.02},{"t":61245.35,"r":-34.97},{"t":61245.40,"r":-31.71},{"t":61245.45,"r":-33.43},{"t":61245.50,"r":-32.68},{"t":61245.55,"r":-34.28},{"t":61245.60,"r":-31.39},{"t":61245.65,"r":-33.62},{"t":61245.70,"r":-32.47},{"t":61245.75,"r":-35.21},{"t":61245.80,"r":-31.93},{"t":61245.85,"r":-33.17},{"t":61245.90,"r":-32.61},{"t":61245.95,"r":-34.36},
{"t":61246.00,"r":-31.83},{"t":61246.05,"r":-33.51},{"t":61246.10,"r":-30.79},{"t":61246.15,"r":-32.95},{"t":61246.20,"r":-34.09},{"t":61246.25,"r":-31.28},{"t":61246.30,"r":-33.36},{"t":61246.35,"r":-32.54},{"t":61246.40,"r":-34.66},{"t":61246.45,"r":-31.67},{"t":61246.50,"r":-33.02},{"t":61246.55,"r":-32.31},{"t":61246.60,"r":-34.98},{"t":61246.65,"r":-31.49},{"t":61246.70,"r":-33.74},{"t":61246.75,"r":-32.19},{"t":61246.80,"r":-30.94},{"t":61246.85,"r":-33.88},{"t":61246.90,"r":-32.42},{"t":61246.95,"r":-34.21},
{"t":61247.00,"r":-31.57},{"t":61247.05,"r":-33.23},{"t":61247.10,"r":-32.06},{"t":61247.15,"r":-34.47},{"t":61247.20,"r":-31.34},{"t":61247.25,"r":-33.65},{"t":61247.30,"r":-32.81},{"t":61247.35,"r":-30.62},{"t":61247.40,"r":-33.97},{"t":61247.45,"r":-32.28},{"t":61247.50,"r":-34.33},{"t":61247.55,"r":-31.79},{"t":61247.60,"r":-33.11},{"t":61247.65,"r":-32.52},{"t":61247.70,"r":-34.81},{"t":61247.75,"r":-31.22},{"t":61247.80,"r":-33.44},{"t":61247.85,"r":-32.69},{"t":61247.90,"r":-30.91},{"t":61247.95,"r":-33.86},
{"t":61248.00,"r":-32.37},{"t":61248.05,"r":-34.18},{"t":61248.10,"r":-35.42},{"t":61248.15,"r":-31.61},{"t":61248.20,"r":-33.29},{"t":61248.25,"r":-32.74},{"t":61248.30,"r":-34.57},{"t":61248.35,"r":-31.18},{"t":61248.40,"r":-33.83},{"t":61248.45,"r":-32.09},{"t":61248.50,"r":-30.68},{"t":61248.55,"r":-33.52},{"t":61248.60,"r":-31.97},{"t":61248.65,"r":-34.26},{"t":61248.70,"r":-32.63},{"t":61248.75,"r":-33.39},{"t":61248.80,"r":-31.44},{"t":61248.85,"r":-34.71},{"t":61248.90,"r":-32.86},{"t":61248.95,"r":-35.69},
{"t":61249.00,"r":-33.07},{"t":61249.05,"r":-31.86},{"t":61249.10,"r":-34.46},{"t":61249.15,"r":-32.31},{"t":61249.20,"r":-33.72},{"t":61249.25,"r":-31.54},{"t":61249.30,"r":-34.08},{"t":61249.35,"r":-32.95},{"t":61249.40,"r":-30.83},{"t":61249.45,"r":-33.61},{"t":61249.50,"r":-32.18},{"t":61249.55,"r":-34.62},{"t":61249.60,"r":-31.71},{"t":61249.65,"r":-33.34},{"t":61249.70,"r":-32.57},{"t":61249.75,"r":-34.93},{"t":61249.80,"r":-31.62},{"t":61249.85,"r":-33.88},{"t":61249.90,"r":-35.99},{"t":61249.95,"r":-32.44},
{"t":61250.00,"r":-30.86},{"t":61250.05,"r":-33.76},{"t":61250.10,"r":-31.58},{"t":61250.15,"r":-32.49},{"t":61250.20,"r":-34.31},{"t":61250.25,"r":-31.93},{"t":61250.30,"r":-33.18},{"t":61250.35,"r":-32.71},{"t":61250.40,"r":-34.84},{"t":61250.45,"r":-31.26},{"t":61250.50,"r":-33.55},{"t":61250.55,"r":-32.03},{"t":61250.60,"r":-34.19},{"t":61250.65,"r":-31.77},{"t":61250.70,"r":-33.42},{"t":61250.75,"r":-32.66},{"t":61250.80,"r":-34.57},{"t":61250.85,"r":-31.39},{"t":61250.90,"r":-33.97},{"t":61250.95,"r":-35.48},
{"t":61251.00,"r":-29.56}
],
"mdev": [
{"lt":3.050,"v":-12.00,"n":"27.9"},{"lt":3.351,"v":-12.39,"n":"411.4"},{"lt":3.652,"v":-12.67,"n":"219.1"},{"lt":3.953,"v":-12.92,"n":"122.6"},{"lt":4.254,"v":-13.36,"n":"44.5"},{"lt":4.556,"v":-13.83,"n":"14.8"},{"lt":4.857,"v":-14.28,"n":"5.3"},{"lt":5.158,"v":-14.82,"n":"1.5"},{"lt":5.459,"v":-15.19,"n":"0.6"},{"lt":5.760,"v":-15.37,"n":"0.4"}
],
"tdev": [
{"lt":3.050,"v":-9.18,"n":"6.7"},{"lt":3.351,"v":-9.27,"n":"5.3"},{"lt":3.652,"v":-9.25,"n":"5.7"},{"lt":3.953,"v":-9.20,"n":"6.4"},{"lt":4.254,"v":-9.34,"n":"4.6"},{"lt":4.556,"v":-9.51,"n":"3.1"},{"lt":4.857,"v":-9.66,"n":"2.2"},{"lt":5.158,"v":-9.90,"n":"1.3"},{"lt":5.459,"v":-9.97,"n":"1.1"},{"lt":5.760,"v":-9.84,"n":"1.4"}
],
"spans": [
{"lt":3.255,"n":"h/2"},{"lt":3.556,"n":"h"},{"lt":4.033,"n":"d/8"},{"lt":4.334,"n":"d/4"},{"lt":4.635,"n":"d/2"},{"lt":4.936,"n":"day"},{"lt":5.414,"n":"ddd"},{"lt":5.782,"n":"wk"}
],
"tau": [
{"lt":3.245,"v":-10.8,"s":"\u03c4 = 1123s"}
]
},
"vconcat": [
{
"width": 1260, "height": 721,
"layer": [
{"data": {"name": "ts"},
"mark": {"type": "point", "shape": "M-1,-1L1,1M-1,1L1,-1", "filled": false, "color": "black", "strokeWidth": 1.1, "size": 44, "opacity": 1},
"encoding": {
"x": {"field": "t", "type": "quantitative", "scale": {"domain": [61219, 61251], "nice": false, "zero": false},
"axis": {"orient": "bottom", "values": [61219,61220,61221,61222,61223,61224,61225,61226,61227,61228,61229,61230,61231,61232,61233,61234,61235,61236,61237,61238,61239,61240,61241,61242,61243,61244,61245,61246,61247,61248,61249,61250,61251], "format": "d", "labelExpr": "datum.value % 5 === 0 ? datum.label : ''", "tickSize": {"condition": {"test": "datum.value % 5 === 0", "value": 13}, "value": 6}, "labelPadding": 10, "title": "Modified Julian Date", "titlePadding": 2}},
"y": {"field": "b", "type": "quantitative", "scale": {"domain": [7.85, 94.03], "nice": false, "zero": false},
"axis": {"orient": "left", "values": [10,20,30,40,50,60,70,80,90], "format": "d", "tickSize": 14, "labelPadding": 13, "title": "nanosecond", "titlePadding": 3}}
}},
{"data": {"name": "ts"},
"mark": {"type": "point", "shape": "square", "filled": true, "color": "#1e90ff", "size": 13, "opacity": 1},
"encoding": {
"x": {"field": "t", "type": "quantitative", "scale": {"domain": [61219, 61251], "nice": false, "zero": false},
"axis": {"orient": "top", "values": [61219,61220,61221,61222,61223,61224,61225,61226,61227,61228,61229,61230,61231,61232,61233,61234,61235,61236,61237,61238,61239,61240,61241,61242,61243,61244,61245,61246,61247,61248,61249,61250,61251], "labels": false, "tickSize": {"condition": {"test": "datum.value % 5 === 0", "value": 14}, "value": 7}, "title": null}},
"y": {"field": "a", "type": "quantitative", "scale": {"domain": [7.85, 94.03], "nice": false, "zero": false},
"axis": {"orient": "right", "values": [10,20,30,40,50,60,70,80,90], "labels": false, "tickSize": 13, "title": null}}
}},
{"data": {"values": [
{"t": 61220.0, "v": 12.0, "s": "_2607_CE__PT13_CE__PT13.PEAA5"},
{"t": 61234.24, "v": 12.0, "s": "GPS P3 (x"},
{"t": 61239.28, "v": 12.0, "s": ") ,"},
{"t": 61240.36, "v": 12.0, "s": "GAL P3 (o"},
{"t": 61245.18, "v": 12.0, "s": ")"},
{"t": 61245.78, "v": 12.0, "s": "2614Ep"}
]},
"mark": {"type": "text", "align": "left", "baseline": "alphabetic", "fontSize": 30, "fontWeight": "bold", "color": "black"},
"encoding": {
"x": {"field": "t", "type": "quantitative", "scale": {"domain": [61219, 61251], "nice": false, "zero": false}, "axis": null},
"y": {"field": "v", "type": "quantitative", "scale": {"domain": [7.85, 94.03], "nice": false, "zero": false}, "axis": null},
"text": {"field": "s"}
}},
{"data": {"values": [
{"t": 61237.83, "v": 11.3, "s": "black"},
{"t": 61244.0, "v": 11.3, "s": "blue"}
]},
"mark": {"type": "text", "align": "left", "baseline": "alphabetic", "fontSize": 21, "fontWeight": "bold", "color": "black"},
"encoding": {
"x": {"field": "t", "type": "quantitative", "scale": {"domain": [61219, 61251], "nice": false, "zero": false}, "axis": null},
"y": {"field": "v", "type": "quantitative", "scale": {"domain": [7.85, 94.03], "nice": false, "zero": false}, "axis": null},
"text": {"field": "s"}
}}
],
"resolve": {"axis": {"x": "independent", "y": "independent"}}
},
{
"width": 1260, "height": 450,
"layer": [
{"data": {"name": "res"},
"mark": {"type": "point", "shape": "M-1,-1L1,1M-1,1L1,-1", "filled": false, "color": "black", "strokeWidth": 1, "size": 32, "opacity": 1},
"encoding": {
"x": {"field": "t", "type": "quantitative", "scale": {"domain": [61219, 61251], "nice": false, "zero": false},
"axis": {"orient": "bottom", "values": [61219,61220,61221,61222,61223,61224,61225,61226,61227,61228,61229,61230,61231,61232,61233,61234,61235,61236,61237,61238,61239,61240,61241,61242,61243,61244,61245,61246,61247,61248,61249,61250,61251], "format": "d", "labelExpr": "datum.value % 5 === 0 ? datum.label : ''", "tickSize": {"condition": {"test": "datum.value % 5 === 0", "value": 13}, "value": 6}, "labelPadding": 10, "title": "Modified Julian Date", "titlePadding": 2}},
"y": {"field": "r", "type": "quantitative", "scale": {"domain": [-37, -28.56], "nice": false, "zero": false},
"axis": {"orient": "left", "values": [-36,-35,-34,-33,-32,-31,-30,-29], "format": "d", "tickSize": 14, "labelPadding": 13, "title": "residuals (ns)", "titlePadding": 3}}
}},
{"data": {"values": [{"t": 61220.0, "v": -36.58, "s": "Max Smoothing Residual: -35.986-29.557-32.694\u00a0 Sigma= 1.032ns"}]},
"mark": {"type": "text", "align": "left", "baseline": "alphabetic", "fontSize": 25, "fontWeight": "bold", "color": "black"},
"encoding": {
"x": {"field": "t", "type": "quantitative", "scale": {"domain": [61219, 61251], "nice": false, "zero": false},
"axis": {"orient": "top", "values": [61219,61220,61221,61222,61223,61224,61225,61226,61227,61228,61229,61230,61231,61232,61233,61234,61235,61236,61237,61238,61239,61240,61241,61242,61243,61244,61245,61246,61247,61248,61249,61250,61251], "labels": false, "tickSize": {"condition": {"test": "datum.value % 5 === 0", "value": 14}, "value": 7}, "title": null}},
"y": {"field": "v", "type": "quantitative", "scale": {"domain": [-37, -28.56], "nice": false, "zero": false},
"axis": {"orient": "right", "values": [-36,-35,-34,-33,-32,-31,-30,-29], "labels": false, "tickSize": 13, "title": null}},
"text": {"field": "s"}
}}
],
"resolve": {"axis": {"x": "independent", "y": "independent"}}
},
{
"hconcat": [
{"width": 1, "height": 1, "view": {"stroke": null}, "data": {"values": [{}]}, "mark": {"type": "point", "opacity": 0}, "encoding": {}},
{
"hconcat": [
{
"width": 540, "height": 450,
"layer": [
{"data": {"name": "mdev"},
"mark": {"type": "circle", "color": "black", "size": 105, "opacity": 1},
"encoding": {
"x": {"field": "lt", "type": "quantitative", "scale": {"domain": [3, 6], "nice": false, "zero": false},
"axis": {"orient": "bottom", "values": [3,3.5,4,4.5,5,5.5,6], "format": "d", "labelExpr": "datum.value % 1 === 0 ? datum.label : ''", "labelFontSize": 27, "labelPadding": 10, "tickSize": {"condition": {"test": "datum.value % 1 === 0", "value": 13}, "value": 6}, "title": "Averaging time, log(\u03c4) (s)", "titlePadding": 2}},
"y": {"field": "v", "type": "quantitative", "scale": {"domain": [-16.5, -10.5], "nice": false, "zero": false},
"axis": {"orient": "left", "values": [-16,-15,-14,-13,-12,-11], "labelFontSize": 27, "labelPadding": 14, "tickSize": 14, "title": "Modified  Allan Deviation (10\u207b\u00b9\u2075)", "titlePadding": 3}}
}},
{"data": {"name": "mdev"},
"mark": {"type": "circle", "color": "black", "size": 105, "opacity": 1},
"encoding": {
"x": {"field": "lt", "type": "quantitative", "scale": {"domain": [3, 6], "nice": false, "zero": false}, "axis": null},
"y": {"field": "v", "type": "quantitative", "scale": {"domain": [-16.5, -10.5], "nice": false, "zero": false},
"axis": {"orient": "left", "values": [-16.5,-15.5,-14.5,-13.5,-12.5,-11.5,-10.5], "labels": false, "tickSize": 7, "title": null}}
}},
{"data": {"name": "mdev"},
"transform": [{"filter": "datum.lt > 3.2"}],
"mark": {"type": "text", "color": "red", "fontSize": 19, "fontWeight": "bold", "dy": -14, "baseline": "middle", "align": "center"},
"encoding": {
"x": {"field": "lt", "type": "quantitative", "scale": {"domain": [3, 6], "nice": false, "zero": false},
"axis": {"orient": "top", "values": [3,3.5,4,4.5,5,5.5,6], "labels": false, "tickSize": {"condition": {"test": "datum.value % 1 === 0", "value": 14}, "value": 7}, "title": null}},
"y": {"field": "v", "type": "quantitative", "scale": {"domain": [-16.5, -10.5], "nice": false, "zero": false},
"axis": {"orient": "right", "values": [-16.5,-16,-15.5,-15,-14.5,-14,-13.5,-13,-12.5,-12,-11.5,-11,-10.5], "labels": false, "tickSize": {"condition": {"test": "datum.value % 1 === 0", "value": 14}, "value": 7}, "title": null}},
"text": {"field": "n"}
}},
{"data": {"name": "mdev"},
"transform": [{"filter": "datum.lt < 3.2"}],
"mark": {"type": "text", "color": "red", "fontSize": 19, "fontWeight": "bold", "dy": -14, "dx": -8, "baseline": "middle", "align": "left"},
"encoding": {
"x": {"field": "lt", "type": "quantitative", "scale": {"domain": [3, 6], "nice": false, "zero": false}, "axis": null},
"y": {"field": "v", "type": "quantitative", "scale": {"domain": [-16.5, -10.5], "nice": false, "zero": false}, "axis": null},
"text": {"field": "n"}
}},
{"data": {"name": "spans"},
"mark": {"type": "circle", "color": "black", "size": 55, "opacity": 1, "clip": true},
"encoding": {
"x": {"field": "lt", "type": "quantitative", "scale": {"domain": [3, 6], "nice": false, "zero": false}, "axis": null},
"y": {"datum": -16.5, "type": "quantitative", "scale": {"domain": [-16.5, -10.5], "nice": false, "zero": false}, "axis": null}
}},
{"data": {"name": "spans"},
"mark": {"type": "text", "color": "red", "fontSize": 19, "fontWeight": "bold", "baseline": "middle", "align": "center"},
"encoding": {
"x": {"field": "lt", "type": "quantitative", "scale": {"domain": [3, 6], "nice": false, "zero": false}, "axis": null},
"y": {"datum": -16.32, "type": "quantitative", "scale": {"domain": [-16.5, -10.5], "nice": false, "zero": false}, "axis": null},
"text": {"field": "n"}
}},
{"data": {"name": "tau"},
"mark": {"type": "text", "color": "black", "fontSize": 15, "fontWeight": "bold", "baseline": "middle", "align": "left"},
"encoding": {
"x": {"field": "lt", "type": "quantitative", "scale": {"domain": [3, 6], "nice": false, "zero": false}, "axis": null},
"y": {"field": "v", "type": "quantitative", "scale": {"domain": [-16.5, -10.5], "nice": false, "zero": false}, "axis": null},
"text": {"field": "s"}
}}
],
"resolve": {"axis": {"x": "independent", "y": "independent"}}
},
{
"width": 539, "height": 450,
"layer": [
{"data": {"name": "tdev"},
"mark": {"type": "circle", "color": "black", "size": 105, "opacity": 1},
"encoding": {
"x": {"field": "lt", "type": "quantitative", "scale": {"domain": [2.75, 6], "nice": false, "zero": false},
"axis": {"orient": "bottom", "values": [3,3.5,4,4.5,5,5.5,6], "format": "d", "labelExpr": "datum.value % 1 === 0 ? datum.label : ''", "labelFontSize": 27, "labelPadding": 10, "tickSize": {"condition": {"test": "datum.value % 1 === 0", "value": 13}, "value": 6}, "title": "Averaging time, log(\u03c4) (s)", "titlePadding": 2}},
"y": {"field": "v", "type": "quantitative", "scale": {"domain": [-10, -7.5], "nice": false, "zero": false},
"axis": {"orient": "left", "values": [-10,-9.5,-9,-8.5,-8,-7.5], "format": "d", "labelExpr": "datum.value % 1 === 0 ? datum.label : ''", "labelFontSize": 27, "labelPadding": 13, "tickSize": {"condition": {"test": "datum.value % 1 === 0", "value": 14}, "value": 7}, "title": "Time deviation (10\u207b\u00b9\u2070 s)", "titlePadding": 3}}
}},
{"data": {"name": "tdev"},
"mark": {"type": "text", "color": "red", "fontSize": 18, "fontWeight": "bold", "dy": -23, "baseline": "middle", "align": "center"},
"encoding": {
"x": {"field": "lt", "type": "quantitative", "scale": {"domain": [2.75, 6], "nice": false, "zero": false},
"axis": {"orient": "top", "values": [3,3.5,4,4.5,5,5.5,6], "labels": false, "tickSize": {"condition": {"test": "datum.value % 1 === 0", "value": 14}, "value": 7}, "title": null}},
"y": {"field": "v", "type": "quantitative", "scale": {"domain": [-10, -7.5], "nice": false, "zero": false},
"axis": {"orient": "right", "values": [-10,-9.5,-9,-8.5,-8,-7.5], "labels": false, "tickSize": {"condition": {"test": "datum.value % 1 === 0", "value": 14}, "value": 7}, "title": null}},
"text": {"field": "n"}
}},
{"data": {"name": "spans"},
"mark": {"type": "circle", "color": "black", "size": 105, "opacity": 1, "clip": true},
"encoding": {
"x": {"field": "lt", "type": "quantitative", "scale": {"domain": [2.75, 6], "nice": false, "zero": false}, "axis": null},
"y": {"datum": -9.98, "type": "quantitative", "scale": {"domain": [-10, -7.5], "nice": false, "zero": false}, "axis": null}
}},
{"data": {"name": "spans"},
"mark": {"type": "text", "color": "red", "fontSize": 19, "fontWeight": "bold", "baseline": "middle", "align": "center"},
"encoding": {
"x": {"field": "lt", "type": "quantitative", "scale": {"domain": [2.75, 6], "nice": false, "zero": false}, "axis": null},
"y": {"datum": -9.865, "type": "quantitative", "scale": {"domain": [-10, -7.5], "nice": false, "zero": false}, "axis": null},
"text": {"field": "n"}
}}
],
"resolve": {"axis": {"x": "independent", "y": "independent"}}
}
],
"spacing": 143.5,
"bounds": "flush"
}
],
"spacing": 7,
"bounds": "flush"
}
]
}
